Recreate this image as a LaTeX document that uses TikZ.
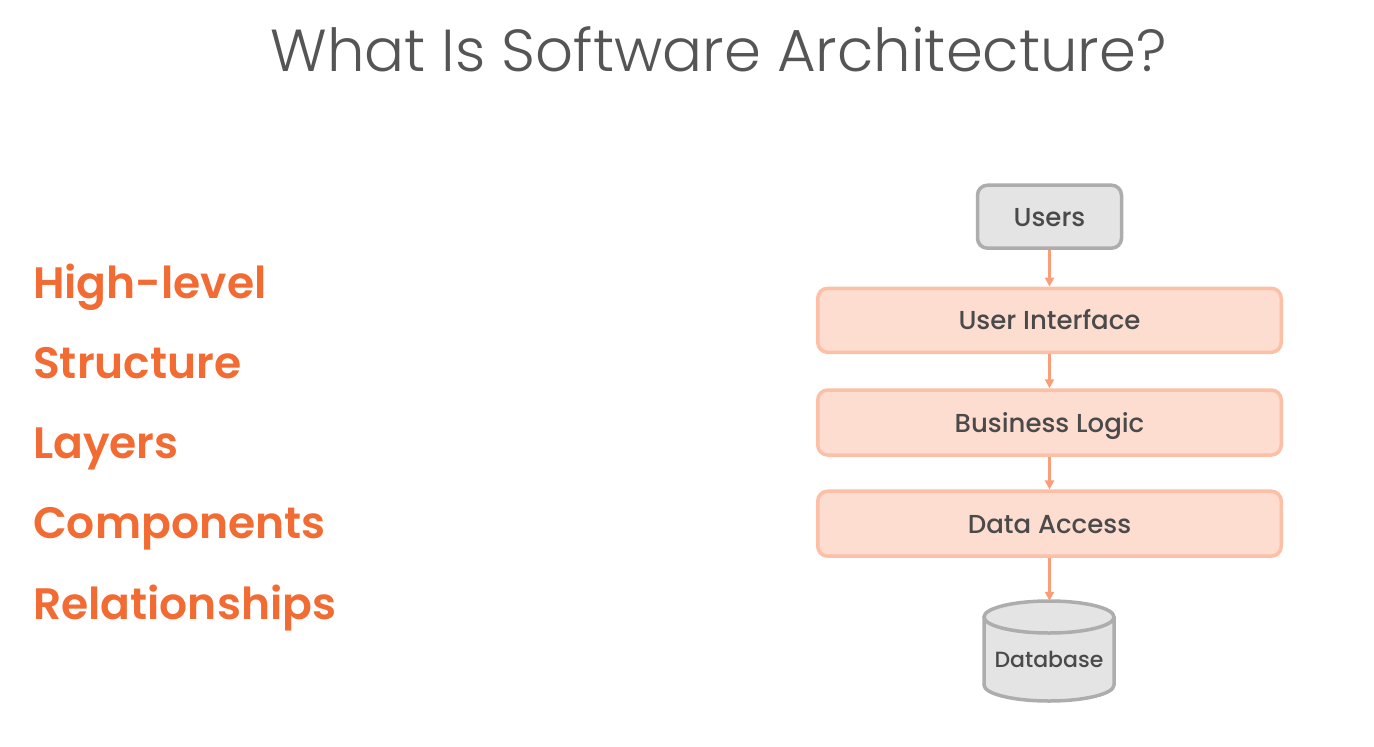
\documentclass[tikz,border=0pt]{standalone}
\usepackage{fontspec}
\setmainfont{Poppins}
\newfontfamily\lightfont{Poppins Light}
\newfontfamily\mediumfont{Poppins Medium}
\newfontfamily\boldfont{Poppins SemiBold}
\usepackage{xcolor}
\usetikzlibrary{arrows.meta}

\definecolor{layerfill}{HTML}{FDDDD0}
\definecolor{layerdraw}{HTML}{FDBFA6}
\definecolor{linkcol}{HTML}{FB9E78}
\definecolor{grayfill}{HTML}{E4E4E4}
\definecolor{graydraw}{HTML}{ADADAD}
\definecolor{labelcol}{HTML}{4A4A4A}
\definecolor{termcol}{HTML}{F26B32}
\definecolor{titlecol}{HTML}{555555}

\begin{document}
\begin{tikzpicture}
  [x=1pt, y=-1pt,
   box/.style={rounded corners=10pt, line width=3.5pt, inner sep=0, text=labelcol,
     text height=19pt, text depth=0pt, font=\mediumfont\fontsize{26}{30}\selectfont},
   layerbox/.style={box, fill=layerfill, draw=layerdraw, minimum width=463.5pt},
   graybox/.style={box, fill=grayfill, draw=graydraw, minimum width=144pt, minimum height=63pt},
   term/.style={anchor=base west, inner sep=0, text=termcol,
     font=\boldfont\fontsize{44}{48}\selectfont},
   link/.style={line width=2.2pt, draw=linkcol, xshift=-1pt, -{Triangle[length=9pt,width=9pt]}}]

  \useasboundingbox[fill=white] (0, 0) rectangle (1374, 747);

  % title
  \node[inner sep=0, anchor=base, text=titlecol, font=\lightfont\fontsize{59.3}{70}\selectfont]
    (title) at (718.5, 71) {What Is Software Architecture?};

  % left column
  \node[term] (high) at (33, 298) {High-level};
  \node[term] (struct) at (33, 378) {Structure};
  \node[term] (layers) at (33, 458) {Layers};
  \node[term] (comp) at (33, 538) {Components};
  \node[term] (rel) at (33, 619) {Relationships};

  % layers
  \node[graybox] (users) at (1049.5, 216.7) {Users};
  \node[layerbox, minimum height=64pt] (ui) at (1049.5, 320.3) {User Interface};
  \node[layerbox, minimum height=65pt] (logic) at (1049.5, 422.5) {Business Logic};
  \node[layerbox, minimum height=65pt] (data) at (1049.5, 523.7) {Data Access};

  % database
  \node[minimum width=131pt, minimum height=100pt, inner sep=0] (db) at (1049.5, 651) {};
  \draw[line width=3.5pt, draw=graydraw, fill=grayfill]
    (984, 617) -- (984, 685) arc[start angle=180, end angle=360, x radius=65pt, y radius=16pt]
    -- (1114, 617) arc[start angle=0, end angle=180, x radius=65pt, y radius=16pt]
    arc[start angle=180, end angle=360, x radius=65pt, y radius=16pt];
  \node[inner sep=0, text=labelcol, font=\mediumfont\fontsize{22}{26}\selectfont] (dbtext) at (1049, 659) {Database};

  % connectors
  \draw[link] (users.south) -- (ui.north);
  \draw[link] (ui.south) -- (logic.north);
  \draw[link] (logic.south) -- (data.north);
  \draw[link] (data.south) -- (db.north);
\end{tikzpicture}
\end{document}
